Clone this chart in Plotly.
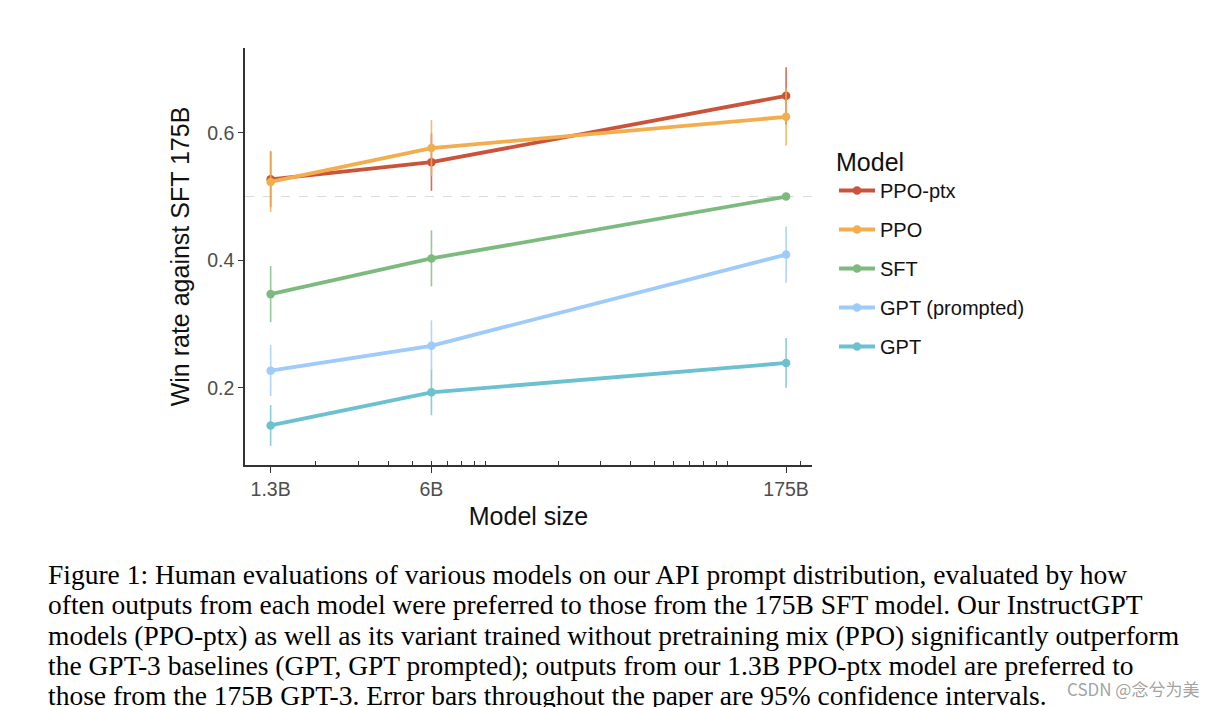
import plotly.graph_objects as go

# ---------------- data ----------------
model_sizes = [1.3, 6, 175]                 # billions of parameters
size_labels = ["1.3B", "6B", "175B"]

series_names = ["PPO-ptx", "PPO", "SFT", "GPT (prompted)", "GPT"]
ppo_ptx = [0.527, 0.554, 0.658]
ppo = [0.523, 0.576, 0.625]
sft = [0.347, 0.403, 0.500]
gpt_prompted = [0.227, 0.266, 0.409]
gpt = [0.141, 0.193, 0.239]

ppo_ptx_err = [0.044, 0.045, 0.045]
ppo_err = [0.047, 0.044, 0.045]
sft_err = [0.044, 0.044, 0.0]
gpt_prompted_err = [0.040, 0.040, 0.044]
gpt_err = [0.032, 0.036, 0.039]

y_ticks = [0.2, 0.4, 0.6]
minor_ticks = [2, 3, 4, 5, 6, 7, 8, 9, 10, 20, 30, 40, 50, 60, 70, 80, 90, 100, 200]

caption_lines = [
    "Figure 1: Human evaluations of various models on our API prompt distribution, evaluated by how",
    "often outputs from each model were preferred to those from the 175B SFT model. Our InstructGPT",
    "models (PPO-ptx) as well as its variant trained without pretraining mix (PPO) significantly outperform",
    "the GPT-3 baselines (GPT, GPT prompted); outputs from our 1.3B PPO-ptx model are preferred to",
    "those from the 175B GPT-3. Error bars throughout the paper are 95% confidence intervals.",
]
watermark = "CSDN @念兮为美"

colors = {
    "PPO-ptx": "#C9543A",
    "PPO": "#F2AE4E",
    "SFT": "#7DBA7E",
    "GPT (prompted)": "#9ECBFA",
    "GPT": "#6CC0CF",
}
err_colors = {
    "PPO-ptx": "rgba(201,84,58,0.85)",
    "PPO": "rgba(242,174,78,0.85)",
    "SFT": "rgba(125,186,126,0.8)",
    "GPT (prompted)": "rgba(158,203,250,0.8)",
    "GPT": "rgba(108,192,207,0.8)",
}

values = {
    "PPO-ptx": (ppo_ptx, ppo_ptx_err),
    "PPO": (ppo, ppo_err),
    "SFT": (sft, sft_err),
    "GPT (prompted)": (gpt_prompted, gpt_prompted_err),
    "GPT": (gpt, gpt_err),
}

# ---------------- layout geometry (page pixels; page body has an 8px margin) ----------------
OFF = 8
PAGE_W, PAGE_H = 1217, 707
W, H = PAGE_W - OFF, PAGE_H - OFF
L, R, T, B = 245, 812, 48, 465   # plot area in page pixels

def px(xp):
    return (xp - L) / (R - L)

def py(yp):
    return (B - yp) / (B - T)

fig = go.Figure()

draw_order = ["GPT", "GPT (prompted)", "SFT", "PPO-ptx", "PPO"]
for name in draw_order:
    yv, ev = values[name]
    fig.add_trace(go.Scatter(
        x=model_sizes, y=yv, name=name, mode="lines+markers",
        line=dict(color=colors[name], width=3.8),
        marker=dict(color=colors[name], size=8.5),
        error_y=dict(type="data", array=ev, visible=True, color=err_colors[name],
                     thickness=1.6, width=0),
        legendgroup=name,
        legendrank=series_names.index(name) + 1,
    ))

# dashed reference line at 0.5
fig.add_shape(type="line", xref="paper", yref="y", x0=0, x1=1, y0=0.5, y1=0.5,
              line=dict(color="#DADADA", width=1, dash="dash"), layer="below")

font_family = "Liberation Sans, Arial, Helvetica, sans-serif"

fig.update_layout(
    width=W, height=H,
    margin=dict(l=L - OFF, r=PAGE_W - R, t=T - OFF, b=PAGE_H - B),
    plot_bgcolor="white", paper_bgcolor="white",
    font=dict(family=font_family, color="#000"),
    showlegend=True,
    legend=dict(
        title=dict(text="Model", font=dict(size=25, color="#111")),
        font=dict(size=20, color="#111"),
        x=px(834), xanchor="left", y=py(138.5), yanchor="top",
        tracegroupgap=10, itemwidth=36, bgcolor="rgba(0,0,0,0)",
    ),
    xaxis=dict(
        type="log", range=[0.008, 2.35],
        tickmode="array", tickvals=model_sizes, ticktext=size_labels,
        ticks="outside", ticklen=6, tickwidth=1.2, tickcolor="#333",
        showline=True, linecolor="#333", linewidth=1.5,
        showgrid=False, zeroline=False,
        tickfont=dict(size=19.5, color="#4D4D4D"),
        title=dict(text="Model size", font=dict(size=25, color="#111"), standoff=8),
        minor=dict(tickmode="array", tickvals=minor_ticks, ticks="inside",
                   ticklen=4, tickwidth=1.1, tickcolor="#333", showgrid=False),
    ),
    yaxis=dict(
        range=[0.079, 0.733],
        tickmode="array", tickvals=y_ticks, ticktext=[f"{v:.1f}" for v in y_ticks],
        ticks="outside", ticklen=5, tickwidth=1.2, tickcolor="#333",
        showline=True, linecolor="#333", linewidth=1.5,
        showgrid=False, zeroline=False,
        tickfont=dict(size=19.5, color="#4D4D4D"),
        title=dict(text="Win rate against SFT 175B", font=dict(size=25, color="#111"), standoff=10),
    ),
)

# caption
caption_centers = [574, 604, 635, 665, 695]
for line, yc in zip(caption_lines, caption_centers):
    fig.add_annotation(
        text=line, xref="paper", yref="paper", x=px(46), y=py(yc),
        xanchor="left", yanchor="middle", showarrow=False,
        font=dict(family="Liberation Serif, Times New Roman, serif", size=27.5, color="#000"),
    )

fig.add_annotation(
    text=watermark, xref="paper", yref="paper", x=px(1133), y=py(688),
    xanchor="center", yanchor="middle", showarrow=False,
    font=dict(family="Noto Sans CJK SC, sans-serif", size=17, color="rgba(150,150,150,0.9)"),
)

fig.write_html("out.html")
